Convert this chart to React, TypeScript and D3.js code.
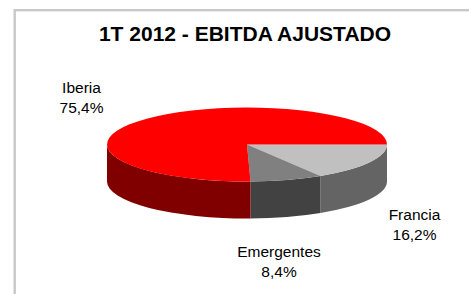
import React from "react";
import * as d3 from "d3";

const categories = ["Francia", "Emergentes", "Iberia"];
const values = [16.2, 8.4, 75.4];
const valueLabels = ["16,2%", "8,4%", "75,4%"];
const topColors = ["#C0C0C0", "#808080", "#FF0000"];
const sideColors = ["#646464", "#424242", "#800000"];
const title = "1T 2012 - EBITDA AJUSTADO";

const W = 469;
const H = 294;
const cx = 247;
const cy = 144.5;
const rx = 140;
const ry = 37;
const depth = 37;

const labelPos: Record<string, [number, number]> = {
  Francia: [414.5, 220],
  Emergentes: [279, 257],
  Iberia: [81.5, 93],
};

function pt(a: number, dy = 0): [number, number] {
  return [cx + rx * Math.sin(a), cy - ry * Math.cos(a) + dy];
}

export default function App() {
  const pie = d3
    .pie<number>()
    .sort(null)
    .startAngle(Math.PI / 2)
    .endAngle(Math.PI / 2 + 2 * Math.PI)
    .value((d) => d);
  const arcs = pie(values);

  const tops = arcs.map((a, i) => {
    const [x0, y0] = pt(a.startAngle);
    const [x1, y1] = pt(a.endAngle);
    const large = a.endAngle - a.startAngle > Math.PI ? 1 : 0;
    const d = `M${cx},${cy}L${x0},${y0}A${rx},${ry} 0 ${large} 1 ${x1},${y1}Z`;
    return <path key={"t" + i} d={d} fill={topColors[i]} />;
  });

  const sides: React.ReactNode[] = [];
  arcs.forEach((a, i) => {
    // visible front range: PI/2 .. 3PI/2 (and shifted by 2PI)
    for (const off of [0, 2 * Math.PI]) {
      const lo = Math.max(a.startAngle, Math.PI / 2 + off);
      const hi = Math.min(a.endAngle, (3 * Math.PI) / 2 + off);
      if (hi <= lo) continue;
      const [x0, y0] = pt(lo);
      const [x1, y1] = pt(hi);
      const [x2, y2] = pt(hi, depth);
      const [x3, y3] = pt(lo, depth);
      const d = `M${x0},${y0}A${rx},${ry} 0 0 1 ${x1},${y1}L${x2},${y2}A${rx},${ry} 0 0 0 ${x3},${y3}Z`;
      sides.push(<path key={"s" + i + off} d={d} fill={sideColors[i]} />);
    }
  });

  return (
    <svg
      width={W}
      height={H}
      style={{ position: "absolute", left: 0, top: 0, background: "#fff" }}
      fontFamily="'Liberation Sans', Arial, sans-serif"
    >
      <rect x={0} y={0} width={W} height={H} fill="#fff" />
      <rect
        x={14.7}
        y={10.2}
        width={W + 20}
        height={H + 20}
        fill="none"
        stroke="#c8c8c8"
        strokeWidth={2.4}
      />
      <text x={245} y={41} textAnchor="middle" fontWeight="bold" fontSize={21} fill="#000">
        {title}
      </text>
      {sides}
      {tops}
      {categories.map((c, i) => {
        const [x, y] = labelPos[c];
        return (
          <text key={c} x={x} y={y} textAnchor="middle" fontSize={15.5} fill="#000">
            <tspan x={x} y={y}>{c}</tspan>
            <tspan x={x} y={y + 20}>{valueLabels[i]}</tspan>
          </text>
        );
      })}
    </svg>
  );
}
